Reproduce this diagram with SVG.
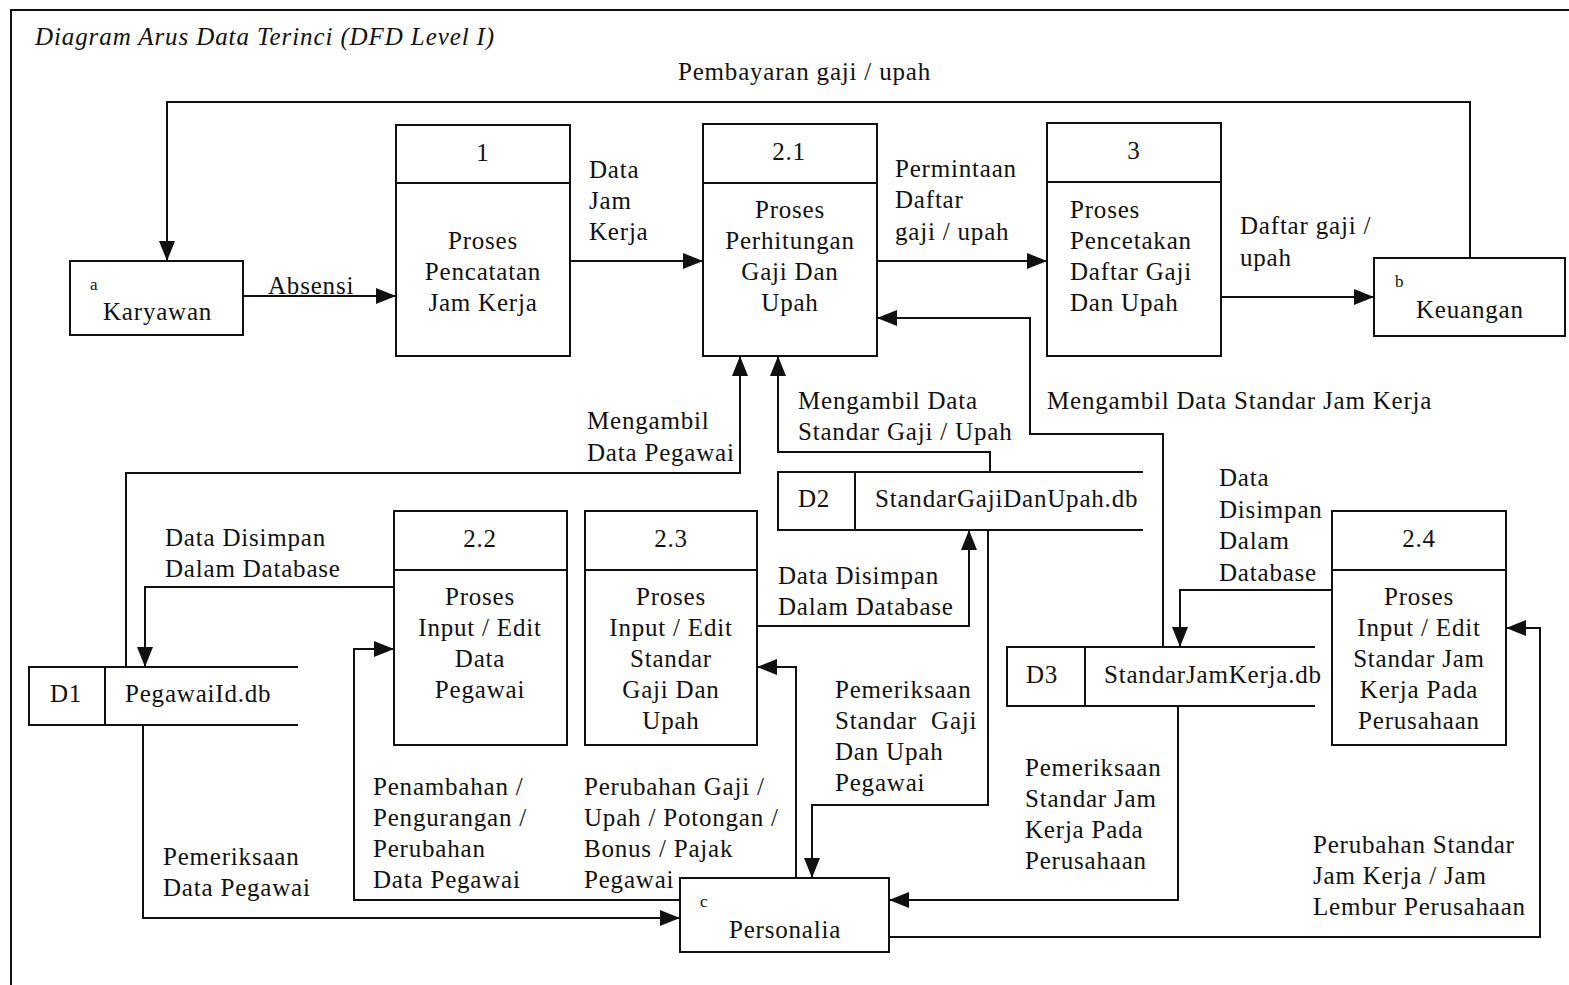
<svg xmlns="http://www.w3.org/2000/svg" width="1569" height="985" viewBox="0 0 1569 985">
  <style>
    .box { fill: #fff; stroke: #111; stroke-width: 2; }
    .ln { fill: none; stroke: #111; stroke-width: 2; }
    .flow { fill: none; stroke: #111; stroke-width: 2; marker-end: url(#arr); }
    text { font-family: "Liberation Serif", "Times New Roman", serif; font-size: 25px; letter-spacing: 0.8px; fill: #111; }
    .c { text-anchor: middle; }
    .small { font-size: 17px; letter-spacing: 0; }
    .title { font-style: italic; font-size: 25px; letter-spacing: 0.9px; }
  </style>
  <defs>
    <marker id="arr" viewBox="0 0 20 16" refX="20" refY="8" markerWidth="20" markerHeight="16" markerUnits="userSpaceOnUse" orient="auto">
      <path d="M0,0 L20,8 L0,16 z" fill="#111"/>
    </marker>
  </defs>
  <rect width="1569" height="985" fill="#fff"/>

  <!-- frame -->
  <path class="ln" d="M11,985 V10 H1569"/>
  <text class="title" x="35" y="45">Diagram Arus Data Terinci (DFD Level I)</text>

  <!-- connectors -->
  <g id="connectors">
    <path class="flow" d="M1470,258 V102 H167 V261"/>
    <path class="flow" d="M243,296 H396"/>
    <path class="flow" d="M570,261 H703"/>
    <path class="flow" d="M877,261 H1047"/>
    <path class="flow" d="M1221,297 H1374"/>
    <path class="flow" d="M126,667 V473 H740 V356"/>
    <path class="flow" d="M990,472 V452 H778 V356"/>
    <path class="flow" d="M1163,647 V434 H1030 V318 H877"/>
    <path class="flow" d="M394,587 H145 V667"/>
    <path class="flow" d="M757,626 H969 V530"/>
    <path class="flow" d="M143,725 V918 H680"/>
    <path class="flow" d="M680,900 H354 V649 H394"/>
    <path class="flow" d="M796,878 V667 H757"/>
    <path class="flow" d="M988,530 V805 H812 V878"/>
    <path class="flow" d="M1332,590 H1180 V647"/>
    <path class="flow" d="M1178,706 V900 H889"/>
    <path class="flow" d="M889,937 H1540 V628 H1506"/>

    <text x="678" y="80">Pembayaran gaji / upah</text>
    <text x="268" y="294">Absensi</text>
    <text x="589" y="178">Data</text>
    <text x="589" y="209">Jam</text>
    <text x="589" y="240">Kerja</text>
    <text x="895" y="177">Permintaan</text>
    <text x="895" y="208">Daftar</text>
    <text x="895" y="240">gaji / upah</text>
    <text x="1240" y="234">Daftar gaji /</text>
    <text x="1240" y="266">upah</text>
    <text x="587" y="429">Mengambil</text>
    <text x="587" y="461">Data Pegawai</text>
    <text x="798" y="409">Mengambil Data</text>
    <text x="798" y="440">Standar Gaji / Upah</text>
    <text x="1047" y="409">Mengambil Data Standar Jam Kerja</text>
    <text x="165" y="546">Data Disimpan</text>
    <text x="165" y="577">Dalam Database</text>
    <text x="778" y="584">Data Disimpan</text>
    <text x="778" y="615">Dalam Database</text>
    <text x="1219" y="486">Data</text>
    <text x="1219" y="518">Disimpan</text>
    <text x="1219" y="549">Dalam</text>
    <text x="1219" y="581">Database</text>
    <text x="835" y="698">Pemeriksaan</text>
    <text x="835" y="729" xml:space="preserve">Standar  Gaji</text>
    <text x="835" y="760">Dan Upah</text>
    <text x="835" y="791">Pegawai</text>
    <text x="1025" y="776">Pemeriksaan</text>
    <text x="1025" y="807">Standar Jam</text>
    <text x="1025" y="838">Kerja Pada</text>
    <text x="1025" y="869">Perusahaan</text>
    <text x="163" y="865">Pemeriksaan</text>
    <text x="163" y="896">Data Pegawai</text>
    <text x="373" y="795">Penambahan /</text>
    <text x="373" y="826">Pengurangan /</text>
    <text x="373" y="857">Perubahan</text>
    <text x="373" y="888">Data Pegawai</text>
    <text x="584" y="795">Perubahan Gaji /</text>
    <text x="584" y="826">Upah / Potongan /</text>
    <text x="584" y="857">Bonus / Pajak</text>
    <text x="584" y="888">Pegawai</text>
    <text x="1313" y="853">Perubahan Standar</text>
    <text x="1313" y="884">Jam Kerja / Jam</text>
    <text x="1313" y="915">Lembur Perusahaan</text>
  </g>

  <!-- external entities -->
  <g id="karyawan">
    <rect class="box" x="70" y="261" width="173" height="74"/>
    <text class="small" x="90" y="290">a</text>
    <text x="103" y="320">Karyawan</text>
  </g>
  <g id="keuangan">
    <rect class="box" x="1374" y="258" width="191" height="78"/>
    <text class="small" x="1395" y="287">b</text>
    <text x="1416" y="318">Keuangan</text>
  </g>
  <g id="personalia">
    <rect class="box" x="680" y="878" width="209" height="74"/>
    <text class="small" x="700" y="907">c</text>
    <text x="729" y="938">Personalia</text>
  </g>

  <!-- processes -->
  <g id="p1">
    <rect class="box" x="396" y="125" width="174" height="231"/>
    <path class="ln" d="M396,183 H570"/>
    <text class="c" x="483" y="161">1</text>
    <text class="c" x="483" y="249">Proses</text>
    <text class="c" x="483" y="280">Pencatatan</text>
    <text class="c" x="483" y="311">Jam Kerja</text>
  </g>
  <g id="p2-1">
    <rect class="box" x="703" y="124" width="174" height="232"/>
    <path class="ln" d="M703,183 H877"/>
    <text class="c" x="789" y="160">2.1</text>
    <text class="c" x="790" y="218">Proses</text>
    <text class="c" x="790" y="249">Perhitungan</text>
    <text class="c" x="790" y="280">Gaji Dan</text>
    <text class="c" x="790" y="311">Upah</text>
  </g>
  <g id="p3">
    <rect class="box" x="1047" y="123" width="174" height="233"/>
    <path class="ln" d="M1047,182 H1221"/>
    <text class="c" x="1134" y="159">3</text>
    <text x="1070" y="218">Proses</text>
    <text x="1070" y="249">Pencetakan</text>
    <text x="1070" y="280">Daftar Gaji</text>
    <text x="1070" y="311">Dan Upah</text>
  </g>
  <g id="p2-2">
    <rect class="box" x="394" y="511" width="173" height="234"/>
    <path class="ln" d="M394,570 H567"/>
    <text class="c" x="480" y="547">2.2</text>
    <text class="c" x="480" y="605">Proses</text>
    <text class="c" x="480" y="636">Input / Edit</text>
    <text class="c" x="480" y="667">Data</text>
    <text class="c" x="480" y="698">Pegawai</text>
  </g>
  <g id="p2-3">
    <rect class="box" x="585" y="511" width="172" height="234"/>
    <path class="ln" d="M585,570 H757"/>
    <text class="c" x="671" y="547">2.3</text>
    <text class="c" x="671" y="605">Proses</text>
    <text class="c" x="671" y="636">Input / Edit</text>
    <text class="c" x="671" y="667">Standar</text>
    <text class="c" x="671" y="698">Gaji Dan</text>
    <text class="c" x="671" y="729">Upah</text>
  </g>
  <g id="p2-4">
    <rect class="box" x="1332" y="511" width="174" height="234"/>
    <path class="ln" d="M1332,570 H1506"/>
    <text class="c" x="1419" y="547">2.4</text>
    <text class="c" x="1419" y="605">Proses</text>
    <text class="c" x="1419" y="636">Input / Edit</text>
    <text class="c" x="1419" y="667">Standar Jam</text>
    <text class="c" x="1419" y="698">Kerja Pada</text>
    <text class="c" x="1419" y="729">Perusahaan</text>
  </g>

  <!-- data stores -->
  <g id="d1">
    <path class="ln" d="M105,667 H29 V725 H105 M105,667 V725 M105,667 H298 M105,725 H298"/>
    <text x="50" y="702">D1</text>
    <text x="125" y="702">PegawaiId.db</text>
  </g>
  <g id="d2">
    <path class="ln" d="M855,472 H778 V530 H855 M855,472 V530 M855,472 H1143 M855,530 H1143"/>
    <text x="798" y="507">D2</text>
    <text x="875" y="507">StandarGajiDanUpah.db</text>
  </g>
  <g id="d3">
    <path class="ln" d="M1085,647 H1007 V706 H1085 M1085,647 V706 M1085,647 H1315 M1085,706 H1315"/>
    <text x="1026" y="683">D3</text>
    <text x="1104" y="683">StandarJamKerja.db</text>
  </g>
</svg>
